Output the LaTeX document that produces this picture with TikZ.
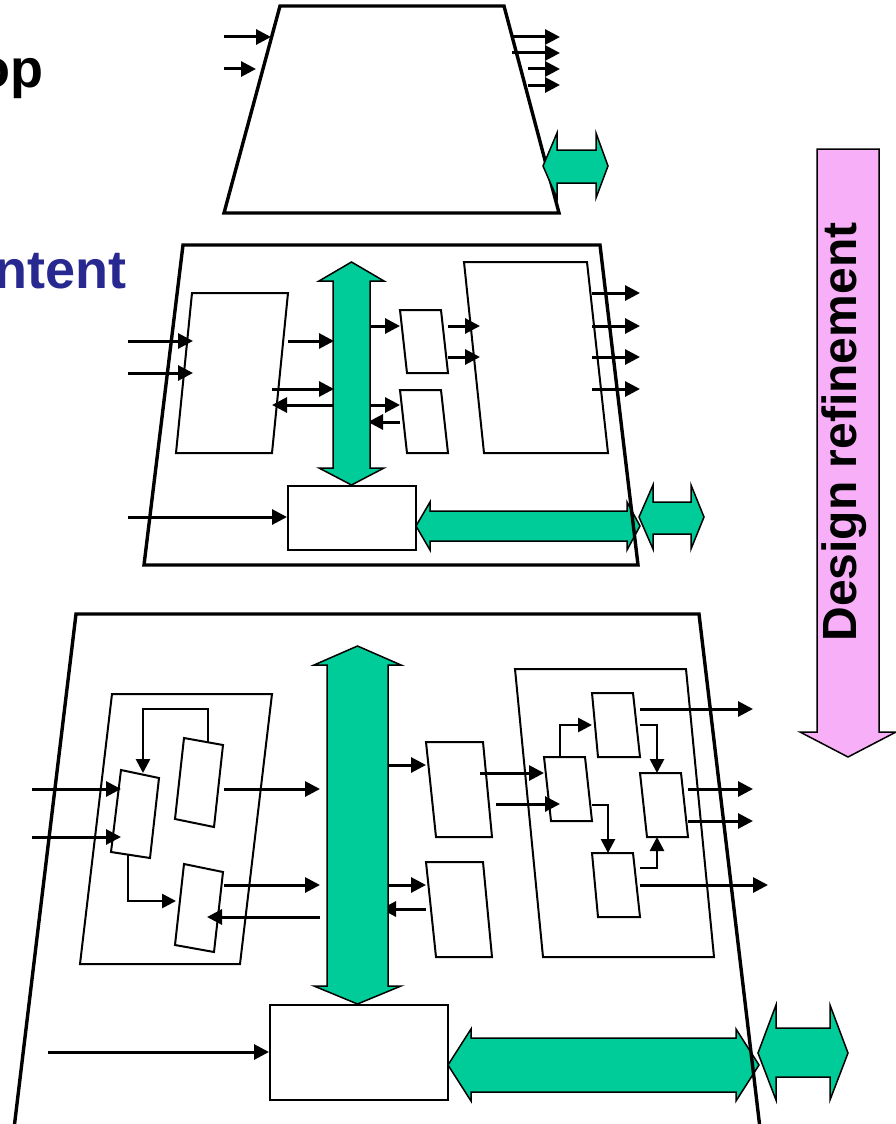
\documentclass[tikz,border=0pt]{standalone}
\usepackage{fontspec}
\setmainfont{Liberation Sans}
\usetikzlibrary{arrows.meta}
\definecolor{busgreen}{RGB}{0,204,153}
\definecolor{refpink}{RGB}{247,176,247}
\definecolor{titleblue}{RGB}{40,40,145}
\begin{document}
\begin{tikzpicture}[x=1pt,y=-1pt,
  frame/.style={line width=3.4pt, line join=miter},
  blk/.style={draw, line width=2pt, fill=white, line join=miter},
  conn/.style={line width=3pt, -{Triangle[length=15pt,width=15pt]}},
  iconn/.style={line width=2.7pt, -{Triangle[length=14pt,width=14pt]}},
  bus/.style={fill=busgreen, draw=black, line width=1.5pt, line join=miter},
  title/.style={font=\fontsize{54}{60}\selectfont\bfseries, anchor=base east, inner sep=0pt},
  plainbox/.style={draw, line width=2pt, fill=white, inner sep=0pt}]
\useasboundingbox (0,0) rectangle (896,1124);
\clip (0,0) rectangle (896,1124);

% ---------- titles ----------
\node[title] (toptitle) at (44,88) {op};
\node[title, text=titleblue] (conttitle) at (127,288) {ntent};

% ---------- refinement arrow ----------
\draw[fill=refpink, line width=1.5pt, line join=miter] (817,149) -- (879,149) -- (879,732) -- (896,732) -- (848,757) -- (800,732) -- (817,732) -- cycle;
\node[font=\fontsize{48}{50}\selectfont\bfseries, rotate=90, inner sep=0pt] (refine) at (844,432) {Design refinement};

% ---------- level 1 ----------
\draw[frame] (280,6) -- (504,6) -- (559,213) -- (224,213) -- cycle;
\coordinate (t-i1a) at (224,37); \coordinate (t-i1b) at (271,37);
\coordinate (t-i2a) at (224,69); \coordinate (t-i2b) at (256,69);
\draw[conn] (t-i1a) -- (t-i1b);
\draw[conn] (t-i2a) -- (t-i2b);
\coordinate (t-o1a) at (513,37); \coordinate (t-o1b) at (560,37);
\coordinate (t-o2a) at (512,53); \coordinate (t-o2b) at (560,53);
\coordinate (t-o3a) at (528,69); \coordinate (t-o3b) at (560,69);
\coordinate (t-o4a) at (528,85); \coordinate (t-o4b) at (560,85);
\foreach \k in {1,2,3,4} \draw[conn] (t-o\k a) -- (t-o\k b);
\draw[bus] (543,166) -- (557,133) -- (557,150) -- (596,150) -- (596,133) -- (608,166) -- (596,198) -- (596,183) -- (557,183) -- (557,198) -- cycle;

% ---------- level 2 ----------
\draw[blk] (192,293) -- (288,293) -- (272,453) -- (176,453) -- cycle;
\draw[blk] (400,310) -- (441,310) -- (448,373) -- (407,373) -- cycle;
\draw[blk] (400,390) -- (441,390) -- (448,453) -- (407,453) -- cycle;
\draw[blk] (464,262) -- (587,262) -- (608,453) -- (484,453) -- cycle;
\node[plainbox, minimum width=128pt, minimum height=64pt] (mbox) at (352,518) {};

\draw[conn] (128,341) -- (193,341);
\draw[conn] (128,373) -- (193,373);
\draw[conn] (288,341) -- (334,341);
\draw[conn] (272,389) -- (334,389);
\draw[conn] (333,405) -- (272,405);
\draw[conn] (368,326) -- (400,326);
\draw[conn] (368,405) -- (400,405);
\draw[conn] (400,422) -- (368,422);
\draw[conn] (448,326) -- (480,326);
\draw[conn] (448,357) -- (480,357);
\foreach \yy in {293,326,357,389} \draw[conn] (592,\yy) -- (640,\yy);
\coordinate (m-in) at (128,517);
\draw[conn] (m-in) -- (mbox.west |- m-in);

\draw[bus] (351.5,262) -- (384,281) -- (370,281) -- (370,468) -- (384,468) -- (351.5,485) -- (319,468) -- (333,468) -- (333,281) -- (319,281) -- cycle;
\draw[bus] (416,526) -- (430,502) -- (430,511) -- (627,511) -- (627,502) -- (640,526) -- (627,550) -- (627,541) -- (430,541) -- (430,550) -- cycle;
\draw[bus] (639,517) -- (653,485) -- (653,502) -- (691,502) -- (691,485) -- (704,517) -- (691,549) -- (691,534) -- (653,534) -- (653,549) -- cycle;
\draw[frame] (183,245) -- (600,245) -- (638,565) -- (144,565) -- cycle;

% ---------- level 3 ----------
% left container
\draw[blk] (112,694) -- (272,694) -- (240,964) -- (80,964) -- cycle;
\draw[blk] (121,770) -- (159,778) -- (150,858) -- (111,852) -- cycle;
\draw[blk] (184,738) -- (223,745) -- (214,827) -- (175,819) -- cycle;
\draw[blk] (184,864) -- (223,872) -- (214,952) -- (175,945) -- cycle;
\draw[iconn] (208,742) -- (208,709) -- (143,709) -- (143,773);
\draw[iconn] (128,855) -- (128,901) -- (176,901);
\draw[conn] (32,789) -- (121,789);
\draw[conn] (32,837) -- (121,837);
\draw[conn] (224,789) -- (320,789);
\draw[conn] (224,885) -- (320,885);
\draw[conn] (320,917) -- (207,917);

% middle blocks
\draw[blk] (426,742) -- (483,742) -- (492,837) -- (436,837) -- cycle;
\draw[blk] (426,862) -- (483,862) -- (492,957) -- (436,957) -- cycle;
\draw[conn] (381,765) -- (426,765);
\draw[conn] (381,885) -- (426,885);
\draw[conn] (426,909) -- (381,909);

% right container
\draw[blk] (515,669) -- (686,669) -- (714,957) -- (543,957) -- cycle;
\draw[blk] (544,757) -- (585,757) -- (592,821) -- (551,821) -- cycle;
\draw[blk] (592,693) -- (633,693) -- (640,757) -- (598,757) -- cycle;
\draw[blk] (640,773) -- (681,773) -- (688,837) -- (647,837) -- cycle;
\draw[blk] (592,853) -- (633,853) -- (640,917) -- (598,917) -- cycle;
\draw[conn] (480,773) -- (544,773);
\draw[conn] (496,804) -- (560,804);
\draw[iconn] (560,757) -- (560,725) -- (592,725);
\draw[iconn] (640,725) -- (657,725) -- (657,773);
\draw[iconn] (592,805) -- (608,805) -- (608,853);
\draw[iconn] (640,868) -- (657,868) -- (657,837);
\draw[conn] (640,709) -- (753,709);
\draw[conn] (688,789) -- (753,789);
\draw[conn] (688,821) -- (753,821);
\draw[conn] (640,885) -- (768,885);

% bottom box and buses
\node[plainbox, minimum width=178pt, minimum height=95pt] (bbox) at (359,1052.5) {};
\coordinate (b-in) at (48,1052);
\draw[conn] (b-in) -- (bbox.west |- b-in);
\draw[bus] (357.5,646) -- (401,665) -- (388,665) -- (388,986) -- (401,986) -- (357.5,1004) -- (314,986) -- (327,986) -- (327,665) -- (314,665) -- cycle;
\draw[bus] (448,1065) -- (471,1029) -- (471,1038) -- (736,1038) -- (736,1029) -- (759,1065) -- (736,1101) -- (736,1092) -- (471,1092) -- (471,1101) -- cycle;
\draw[bus] (758,1053) -- (776,1005) -- (776,1028) -- (830,1028) -- (830,1005) -- (848,1053) -- (830,1100) -- (830,1077) -- (776,1077) -- (776,1100) -- cycle;
\draw[frame] (5.4,1200) -- (76,614) -- (699,614) -- (768.5,1200);
\end{tikzpicture}
\end{document}
